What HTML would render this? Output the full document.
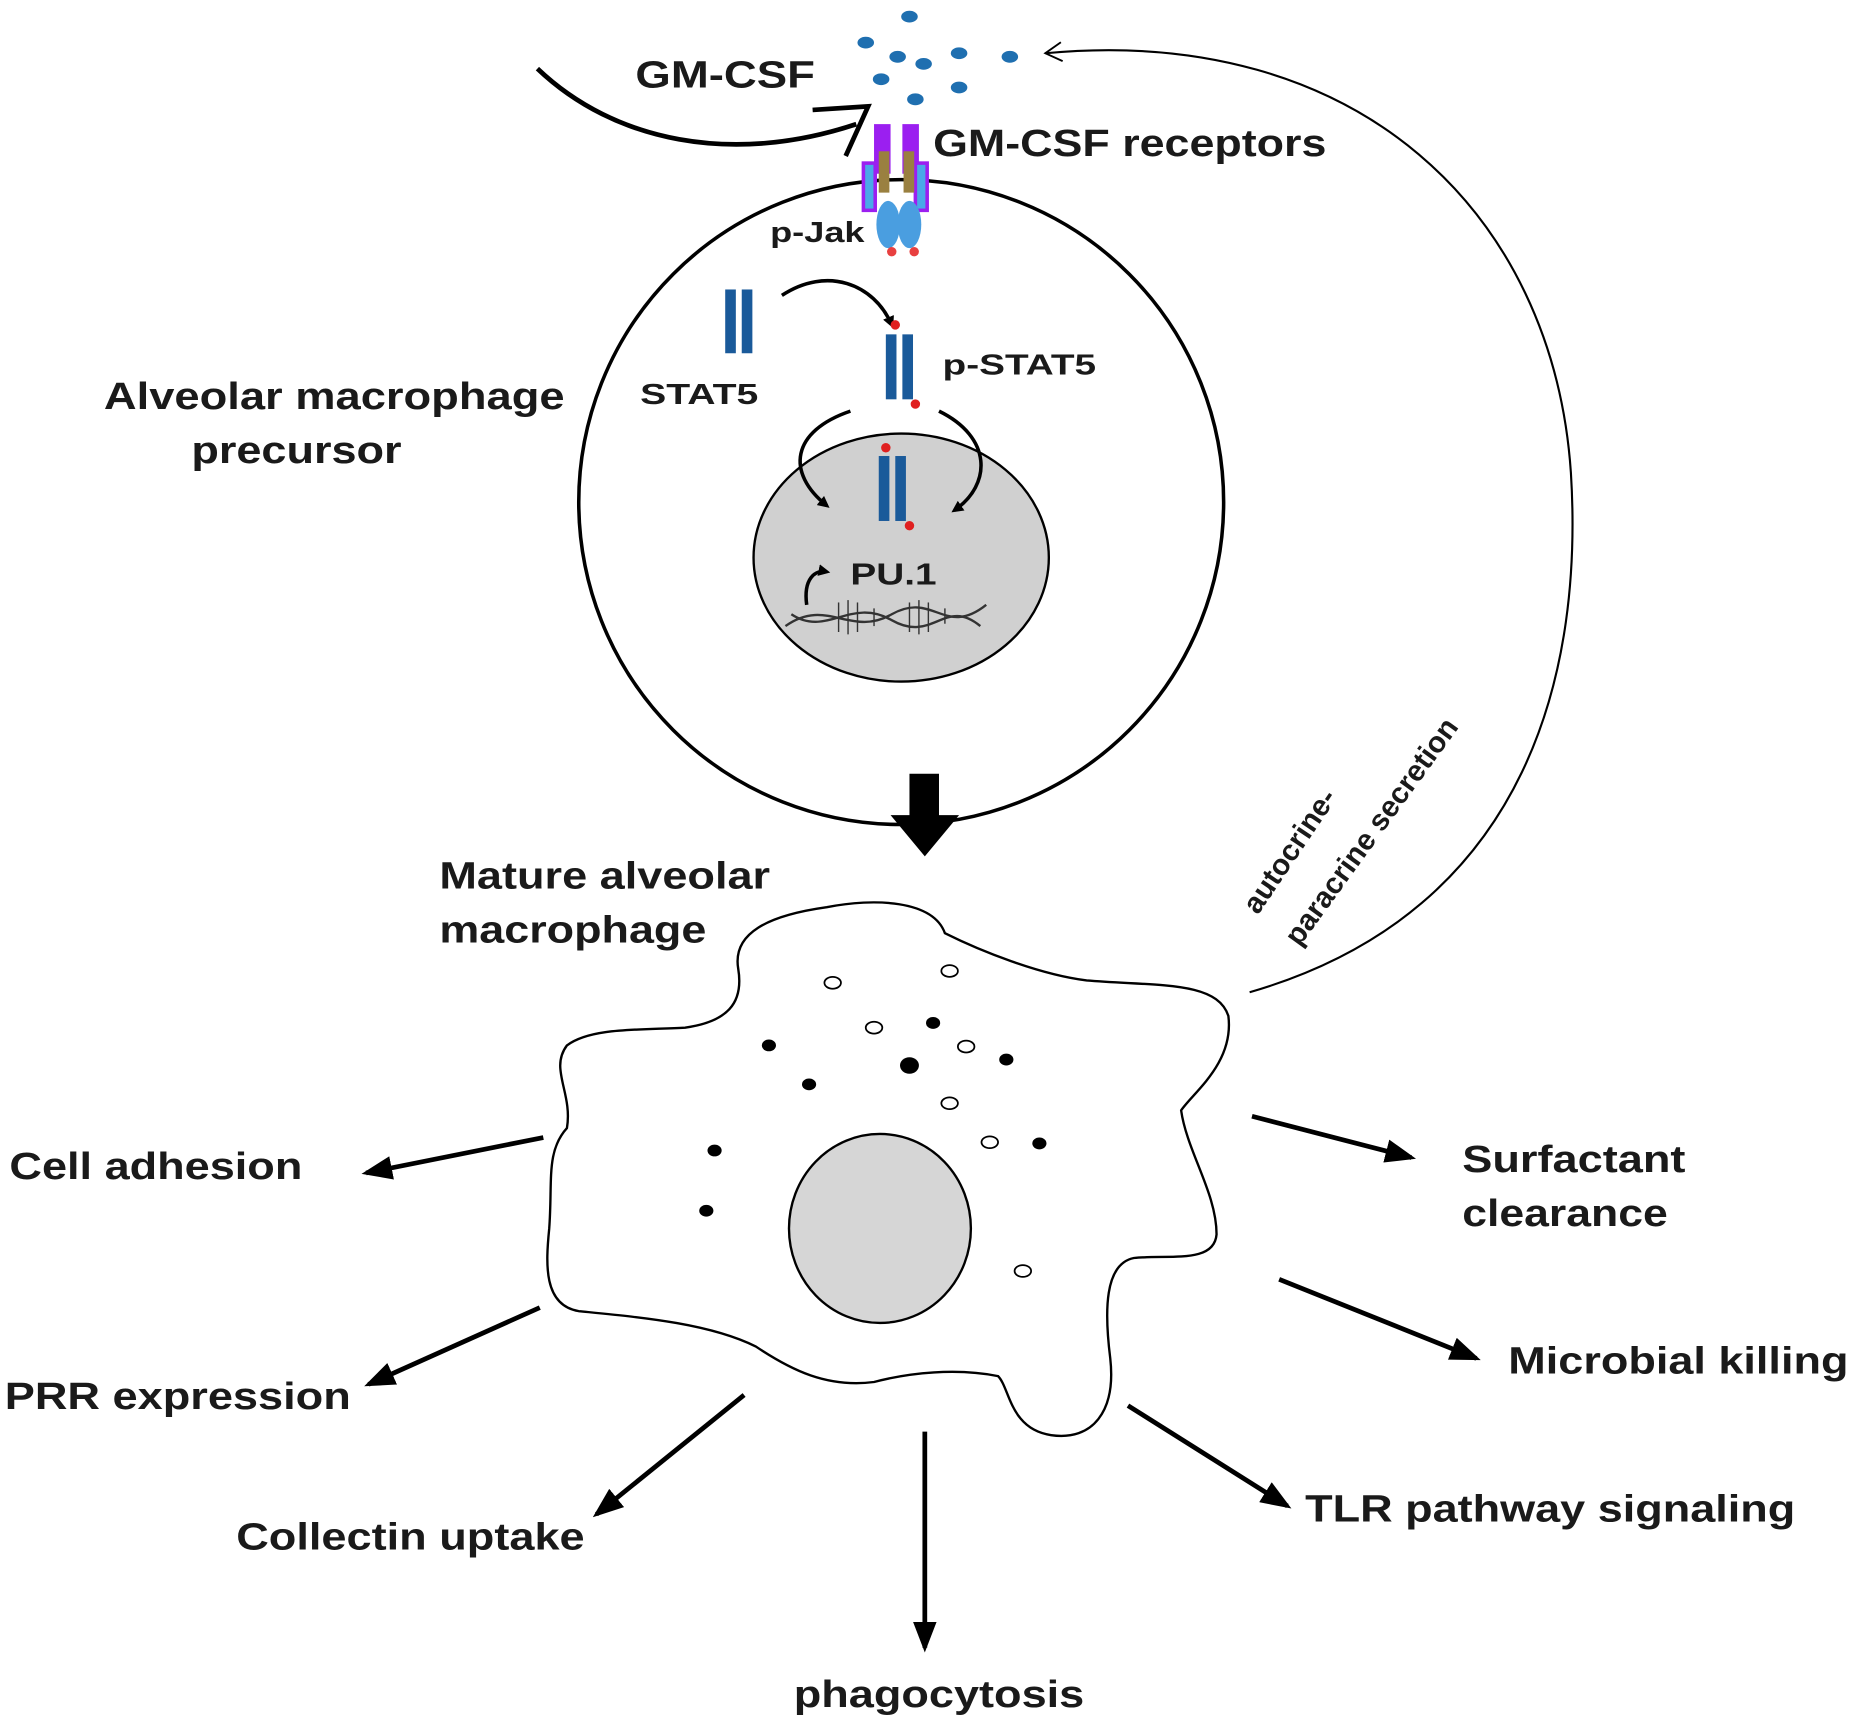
<!DOCTYPE html>
<html><head><meta charset="utf-8"><style>
html,body{margin:0;padding:0;background:#fff}
svg{display:block}
text{font-family:"Liberation Sans",Arial,sans-serif;font-weight:bold;fill:#1a1a1a}
</style></head><body>
<svg width="1852" height="1727" viewBox="0 0 1568 1462" xmlns="http://www.w3.org/2000/svg">
<defs>
<marker id="ah" markerWidth="10" markerHeight="10" refX="7" refY="5" orient="auto" markerUnits="userSpaceOnUse">
<path d="M0,0 L10,5 L0,10 Z" fill="#000"/></marker>
<marker id="ab" markerWidth="26" markerHeight="20" refX="22" refY="10" orient="auto" markerUnits="userSpaceOnUse">
<path d="M0,0 L26,10 L0,20 Z" fill="#000"/></marker>
<marker id="thin" markerWidth="20" markerHeight="20" refX="16" refY="10" orient="auto" markerUnits="userSpaceOnUse">
<path d="M2,2 L16,10 L2,18" fill="none" stroke="#000" stroke-width="1.6"/></marker>
</defs>

<g fill="#1f6fb0">
<ellipse cx="770" cy="14" rx="7" ry="5"/>
<ellipse cx="733" cy="36" rx="7" ry="5"/>
<ellipse cx="760" cy="48" rx="7" ry="5"/>
<ellipse cx="782" cy="54" rx="7" ry="5"/>
<ellipse cx="812" cy="45" rx="7" ry="5"/>
<ellipse cx="855" cy="48" rx="7" ry="5"/>
<ellipse cx="746" cy="67" rx="7" ry="5"/>
<ellipse cx="812" cy="74" rx="7" ry="5"/>
<ellipse cx="775" cy="84" rx="7" ry="5"/>
</g>
<text x="538" y="74" font-size="32" textLength="152" lengthAdjust="spacingAndGlyphs">GM-CSF</text>
<text x="790" y="132" font-size="32" textLength="333" lengthAdjust="spacingAndGlyphs">GM-CSF receptors</text>
<path d="M455,58 C520,120 620,140 725,105" fill="none" stroke="#000" stroke-width="4"/>
<path d="M688,93 L735,90 L716,132" fill="none" stroke="#000" stroke-width="4"/>

<circle cx="763" cy="425" r="273" fill="#fff" stroke="#000" stroke-width="3"/>
<rect x="740" y="105" width="14" height="42" fill="#9b1ff0"/>
<rect x="764" y="105" width="14" height="42" fill="#9b1ff0"/>
<rect x="731" y="138" width="10" height="40" fill="#4aa8e8" stroke="#9b1ff0" stroke-width="3"/>
<rect x="775" y="138" width="10" height="40" fill="#4aa8e8" stroke="#9b1ff0" stroke-width="3"/>
<rect x="744" y="128" width="9" height="35" fill="#9a8040"/>
<rect x="765" y="128" width="9" height="35" fill="#9a8040"/>
<ellipse cx="752" cy="190" rx="10" ry="20" fill="#4a9ee0"/>
<ellipse cx="770" cy="190" rx="10" ry="20" fill="#4a9ee0"/>
<circle cx="755" cy="213" r="4" fill="#e84040"/><circle cx="774" cy="213" r="4" fill="#e84040"/>
<text x="652" y="205" font-size="24" textLength="80" lengthAdjust="spacingAndGlyphs">p-Jak</text>

<rect x="614" y="245" width="9" height="54" fill="#1a5a9a"/><rect x="628" y="245" width="9" height="54" fill="#1a5a9a"/>
<text x="542" y="342" font-size="24" textLength="100" lengthAdjust="spacingAndGlyphs">STAT5</text>
<path d="M662,250 C700,225 740,240 755,275" fill="none" stroke="#000" stroke-width="3" marker-end="url(#ah)"/>
<rect x="750" y="283" width="9" height="55" fill="#1a5a9a"/><rect x="764" y="283" width="9" height="55" fill="#1a5a9a"/>
<circle cx="758" cy="275" r="4" fill="#e02020"/><circle cx="775" cy="342" r="4" fill="#e02020"/>
<text x="798" y="317" font-size="24" textLength="130" lengthAdjust="spacingAndGlyphs">p-STAT5</text>

<ellipse cx="763" cy="472" rx="125" ry="105" fill="#d0d0d0" stroke="#000" stroke-width="2"/>
<path d="M720,348 C670,365 665,400 700,428" fill="none" stroke="#000" stroke-width="3" marker-end="url(#ah)"/>
<path d="M795,348 C840,370 840,410 808,432" fill="none" stroke="#000" stroke-width="3" marker-end="url(#ah)"/>
<rect x="744" y="386" width="9" height="55" fill="#1a5a9a"/><rect x="758" y="386" width="9" height="55" fill="#1a5a9a"/>
<circle cx="750" cy="379" r="4" fill="#e02020"/><circle cx="770" cy="445" r="4" fill="#e02020"/>
<text x="720" y="495" font-size="26" textLength="73" lengthAdjust="spacingAndGlyphs">PU.1</text>
<path d="M683,512 C680,490 690,482 700,484" fill="none" stroke="#000" stroke-width="3" marker-end="url(#ah)"/>
<path d="M665,530 C700,505 720,540 755,520 C790,500 800,540 835,512" fill="none" stroke="#333" stroke-width="2"/>
<path d="M670,520 C700,540 720,505 755,525 C790,545 800,505 830,530" fill="none" stroke="#333" stroke-width="2"/>
<g stroke="#333" stroke-width="1.2">
<line x1="710" y1="510" x2="710" y2="535"/><line x1="718" y1="508" x2="718" y2="537"/><line x1="726" y1="510" x2="726" y2="535"/>
<line x1="770" y1="510" x2="770" y2="535"/><line x1="778" y1="508" x2="778" y2="537"/><line x1="786" y1="510" x2="786" y2="535"/>
<line x1="740" y1="515" x2="740" y2="530"/><line x1="800" y1="515" x2="800" y2="528"/>
</g>

<text x="88" y="346" font-size="32" textLength="390" lengthAdjust="spacingAndGlyphs">Alveolar macrophage</text>
<text x="162" y="392" font-size="32" textLength="178" lengthAdjust="spacingAndGlyphs">precursor</text>

<path d="M770,655 L795,655 L795,690 L812,690 L783,725 L754,690 L770,690 Z" fill="#000"/>

<text x="372" y="752" font-size="32" textLength="280" lengthAdjust="spacingAndGlyphs">Mature alveolar</text>
<text x="372" y="798" font-size="32" textLength="226" lengthAdjust="spacingAndGlyphs">macrophage</text>

<path d="M1058,840 C1300,770 1340,560 1330,400 C1315,180 1150,20 885,45" fill="none" stroke="#000" stroke-width="1.8" marker-end="url(#thin)"/>
<text font-size="25" transform="translate(1065,775) rotate(-56)">autocrine-</text>
<text font-size="25" transform="translate(1100,802) rotate(-54)">paracrine secretion</text>

<path d="M625,820 C620,790 650,775 700,768 C740,760 790,762 800,790 C830,805 880,825 920,830 C980,835 1030,830 1040,860 C1045,900 1010,925 1000,940 C1005,975 1030,1010 1030,1045 C1028,1070 990,1062 960,1065 C935,1070 935,1110 940,1150 C945,1195 925,1220 890,1215 C855,1210 855,1175 845,1165 C810,1158 770,1162 740,1170 C700,1175 670,1160 640,1140 C600,1120 540,1115 490,1110 C460,1105 462,1070 465,1040 C468,1000 462,975 480,955 C485,925 465,905 480,885 C500,870 540,872 580,870 C615,865 630,850 625,820 Z" fill="#fff" stroke="#000" stroke-width="2"/>
<ellipse cx="745" cy="1040" rx="77" ry="80" fill="#d6d6d6" stroke="#000" stroke-width="2"/>
<g fill="#000">
<ellipse cx="651" cy="885" rx="6" ry="5"/><ellipse cx="790" cy="866" rx="6" ry="5"/><ellipse cx="770" cy="902" rx="8" ry="7"/>
<ellipse cx="852" cy="897" rx="6" ry="5"/><ellipse cx="685" cy="918" rx="6" ry="5"/><ellipse cx="880" cy="968" rx="6" ry="5"/>
<ellipse cx="605" cy="974" rx="6" ry="5"/><ellipse cx="598" cy="1025" rx="6" ry="5"/>
</g>
<g fill="#fff" stroke="#000" stroke-width="1.5">
<ellipse cx="705" cy="832" rx="7" ry="5"/><ellipse cx="804" cy="822" rx="7" ry="5"/><ellipse cx="740" cy="870" rx="7" ry="5"/>
<ellipse cx="818" cy="886" rx="7" ry="5"/><ellipse cx="804" cy="934" rx="7" ry="5"/><ellipse cx="838" cy="967" rx="7" ry="5"/>
<ellipse cx="866" cy="1076" rx="7" ry="5"/>
</g>

<g stroke="#000" stroke-width="4" fill="none" marker-end="url(#ab)">
<line x1="460" y1="963" x2="310" y2="993"/>
<line x1="457" y1="1107" x2="312" y2="1172"/>
<line x1="630" y1="1181" x2="505" y2="1282"/>
<line x1="783" y1="1212" x2="783" y2="1395"/>
<line x1="955" y1="1190" x2="1090" y2="1275"/>
<line x1="1083" y1="1083" x2="1250" y2="1150"/>
<line x1="1060" y1="945" x2="1195" y2="980"/>
</g>
<text x="8" y="998" font-size="32" textLength="248" lengthAdjust="spacingAndGlyphs">Cell adhesion</text>
<text x="4" y="1193" font-size="32" textLength="293" lengthAdjust="spacingAndGlyphs">PRR expression</text>
<text x="200" y="1312" font-size="32" textLength="295" lengthAdjust="spacingAndGlyphs">Collectin uptake</text>
<text x="672" y="1445" font-size="32" textLength="246" lengthAdjust="spacingAndGlyphs">phagocytosis</text>
<text x="1105" y="1288" font-size="32" textLength="415" lengthAdjust="spacingAndGlyphs">TLR pathway signaling</text>
<text x="1277" y="1163" font-size="32" textLength="288" lengthAdjust="spacingAndGlyphs">Microbial killing</text>
<text x="1238" y="992" font-size="32" textLength="189" lengthAdjust="spacingAndGlyphs">Surfactant</text>
<text x="1238" y="1038" font-size="32" textLength="174" lengthAdjust="spacingAndGlyphs">clearance</text>
</svg>
</body></html>
